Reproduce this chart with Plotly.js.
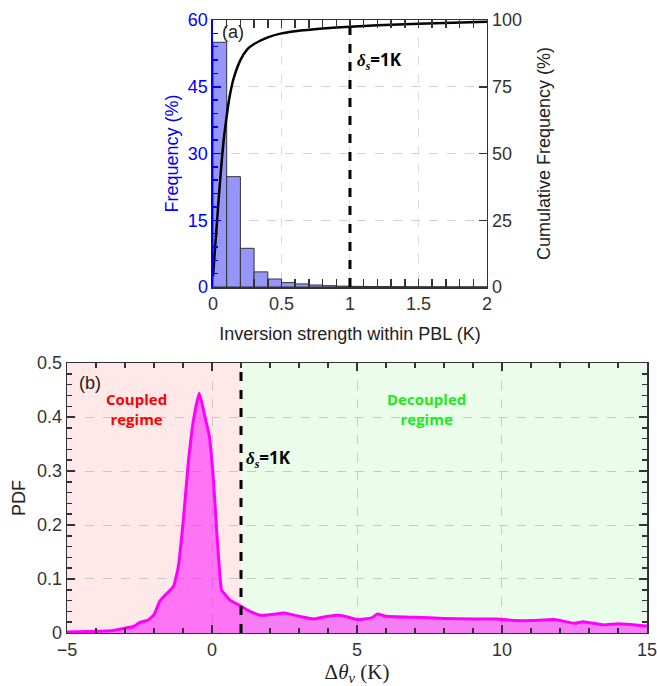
<!DOCTYPE html>
<html>
<head>
<meta charset="utf-8">
<script src="https://cdn.plot.ly/plotly-3.0.1.min.js"></script>
<style>html,body{margin:0;padding:0;background:#fff;}#chart{width:657px;height:686px;}</style>
</head>
<body>
<div id="chart"></div>
<script>
// ---- Panel (a): inversion strength histogram ----
var binCenters = [0.05,0.15,0.25,0.35,0.45,0.55,0.65,0.75,0.85,0.95,1.05,1.15,1.25,1.35,1.45,1.55,1.65,1.75,1.85,1.95];
var freqPct = [55.0,24.8,8.7,3.4,1.8,1.0,0.7,0.45,0.3,0.2,0.15,0.12,0.1,0.08,0.06,0.05,0.04,0.03,0.03,0.02];
var cumX = [0,0.02,0.04,0.06,0.08,0.10,0.12,0.15,0.20,0.25,0.30,0.40,0.50,0.60,0.80,1.00,1.20,1.50,1.75,2.00];
var cumPct = [4,18,32,45,56,64,71,78,85,89,91,93.5,95,95.8,96.8,97.5,98,98.6,99,99.4];

// ---- Panel (b): PDF of delta theta_v ----
var pdfX = [-5,-4,-3.5,-3,-2.7,-2.5,-2.2,-2.0,-1.8,-1.56,-1.33,-1.16,-0.99,-0.82,-0.64,-0.44,-0.24,-0.09,0.05,0.16,0.25,0.33,0.62,1.02,1.31,1.66,2.0,2.5,3.0,3.5,4.0,4.3,4.5,5.0,5.5,5.7,6.0,7.0,8.0,9.0,9.8,10.5,11.0,11.8,12.5,12.8,13.5,14.0,15.0];
var pdfY = [0.002,0.003,0.004,0.009,0.012,0.019,0.024,0.034,0.059,0.073,0.086,0.123,0.209,0.314,0.394,0.444,0.400,0.364,0.283,0.190,0.123,0.080,0.061,0.049,0.040,0.033,0.034,0.037,0.031,0.026,0.031,0.033,0.032,0.025,0.028,0.035,0.031,0.029,0.027,0.026,0.026,0.023,0.023,0.025,0.018,0.021,0.015,0.017,0.013];
var threshold = 1;

var sans = 'Liberation Sans, Arial, sans-serif';
var tickFont = {family:sans, size:18, color:'#333'};

var traces = [
  {type:'bar', x:binCenters, y:freqPct, xaxis:'x', yaxis:'y', width:0.1,
   marker:{color:'rgb(150,150,250)', line:{color:'#333', width:1}}, showlegend:false},
  {type:'scatter', mode:'lines', x:cumX, y:cumPct, xaxis:'x', yaxis:'y2', line:{color:'#000', width:2.5, shape:'spline', smoothing:0.6}, showlegend:false},
  {type:'scatter', mode:'lines', x:pdfX, y:pdfY, xaxis:'x2', yaxis:'y3', fill:'tozeroy', fillcolor:'rgba(255,0,255,0.5)',
   line:{color:'#ff00ff', width:3, shape:'spline', smoothing:0.4}, showlegend:false}
];

function minorT(d, color){ return {dtick:d, ticks:'inside', ticklen:5, tickwidth:1.5, tickcolor:color||'#333', showgrid:false}; }

var layout = {
  width:657, height:686,
  margin:{l:0,r:0,t:0,b:0},
  paper_bgcolor:'#fff', plot_bgcolor:'#fff',
  bargap:0,
  xaxis:{domain:[0.3242,0.7412], anchor:'y', range:[0,2.0001], tick0:0, dtick:0.5,
    ticks:'inside', ticklen:8, tickwidth:1.5, tickcolor:'#333', showline:true, linecolor:'#333', linewidth:1.5, mirror:'allticks',
    showgrid:true, gridcolor:'rgb(220,220,220)', griddash:'dash', zeroline:false, tickfont:tickFont,
    minor:minorT(0.1),
    title:{text:'Inversion strength within PBL (K)', font:{family:sans, size:18, color:'#222'}, standoff:14},
    automargin:false},
  yaxis:{domain:[0.5816,0.9708], anchor:'x', range:[0,60.001], tick0:0, dtick:15,
    ticks:'inside', ticklen:8, tickwidth:1.5, tickcolor:'#0000ff', showline:true, linecolor:'#0000ff', linewidth:1.5,
    showgrid:true, gridcolor:'rgb(205,205,255)', griddash:'dash', zeroline:false,
    tickfont:{family:sans, size:18, color:'#0000ff'},
    minor:minorT(3, '#0000ff'),
    title:{text:'Frequency (%)', font:{family:sans, size:18, color:'#0000ff'}, standoff:4},
    automargin:false},
  yaxis2:{overlaying:'y', side:'right', anchor:'x', range:[0,100.001], tick0:0, dtick:25,
    ticks:'inside', ticklen:8, tickwidth:1.5, tickcolor:'#333', showline:true, linecolor:'#333', linewidth:1.5,
    showgrid:false, zeroline:false, tickfont:tickFont,
    title:{text:'Cumulative Frequency (%)', font:{family:sans, size:18, color:'#222'}, standoff:16},
    automargin:false},
  xaxis2:{domain:[0.1020,0.9848], anchor:'y3', range:[-5,15.001], tick0:-5, dtick:5,
    ticks:'inside', ticklen:8, tickwidth:1.5, tickcolor:'#333', showline:true, linecolor:'#333', linewidth:1.5, mirror:'allticks',
    showgrid:true, gridcolor:'rgb(200,200,200)', griddash:'dash', zeroline:false, tickfont:tickFont,
    minor:minorT(1),
    title:{text:'Δ<i>θ</i><sub><i>v</i></sub> (K)', font:{family:'Liberation Serif, Times New Roman, serif', size:21, color:'#222'}, standoff:4},
    automargin:false},
  yaxis3:{domain:[0.0773,0.4708], anchor:'x2', range:[0,0.5001], tick0:0, dtick:0.1,
    ticks:'inside', ticklen:8, tickwidth:1.5, tickcolor:'#333', showline:true, linecolor:'#333', linewidth:1.5, mirror:'allticks',
    showgrid:true, gridcolor:'rgb(200,200,200)', griddash:'dash', zeroline:false, tickfont:tickFont,
    minor:minorT(0.02),
    title:{text:'PDF', font:{family:sans, size:18, color:'#222'}, standoff:6},
    automargin:false},
  shapes:[
    {type:'rect', xref:'x2', yref:'y3 domain', x0:-5, x1:threshold, y0:0, y1:1, fillcolor:'rgb(255,232,232)', line:{width:0}, layer:'below'},
    {type:'rect', xref:'x2', yref:'y3 domain', x0:threshold, x1:15, y0:0, y1:1, fillcolor:'rgb(234,253,234)', line:{width:0}, layer:'below'},
    {type:'line', xref:'x', yref:'y2', x0:threshold, x1:threshold, y0:0, y1:97.5, line:{color:'#000', width:3, dash:'dash'}},
    {type:'line', xref:'x2', yref:'y3 domain', x0:threshold, x1:threshold, y0:0, y1:1, line:{color:'#000', width:3, dash:'dash'}}
  ],
  annotations:[
    {xref:'x', yref:'y', x:0.05, y:57.3, text:'(a)', showarrow:false, xanchor:'left', yanchor:'middle', font:{family:sans, size:18, color:'#222'}},
    {xref:'x', yref:'y2', x:1.04, y:85, text:'<i style="font-family:Liberation Serif">δ</i><sub><i style="font-family:Liberation Serif">s</i></sub>=1K', showarrow:false, xanchor:'left', yanchor:'middle', font:{family:'Open Sans, sans-serif', size:17, color:'#000', weight:'bold'}},
    {xref:'x2', yref:'y3', x:-4.66, y:0.463, text:'(b)', showarrow:false, xanchor:'left', yanchor:'middle', font:{family:sans, size:18, color:'#222'}},
    {xref:'x2', yref:'y3', x:-2.6, y:0.415, text:'Coupled<br>regime', showarrow:false, xanchor:'center', yanchor:'middle', font:{family:'Open Sans, sans-serif', size:15, color:'#ff0000', weight:'bold'}},
    {xref:'x2', yref:'y3', x:7.4, y:0.415, text:'Decoupled<br>regime', showarrow:false, xanchor:'center', yanchor:'middle', font:{family:'Open Sans, sans-serif', size:15, color:'#1ee81e', weight:'bold'}},
    {xref:'x2', yref:'y3', x:1.12, y:0.324, text:'<i style="font-family:Liberation Serif">δ</i><sub><i style="font-family:Liberation Serif">s</i></sub>=1K', showarrow:false, xanchor:'left', yanchor:'middle', font:{family:'Open Sans, sans-serif', size:17, color:'#000', weight:'bold'}}
  ]
};

Plotly.newPlot('chart', traces, layout, {staticPlot:true, displayModeBar:false});
</script>
</body>
</html>
